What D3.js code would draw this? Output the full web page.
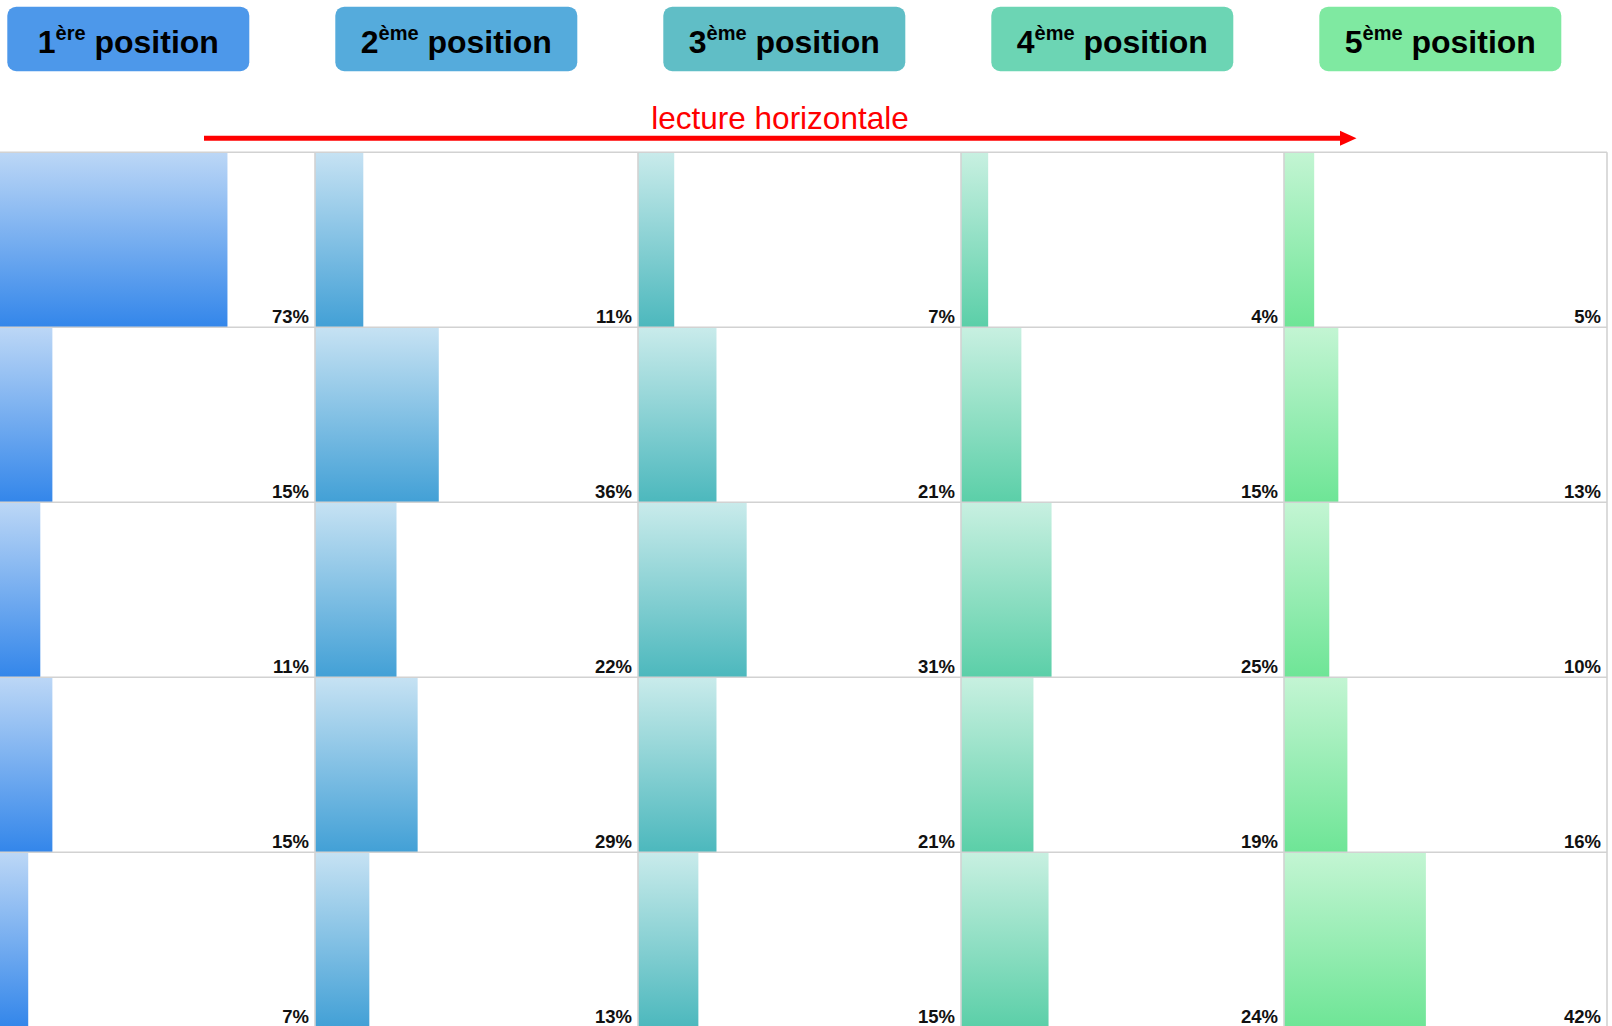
<!DOCTYPE html>
<html>
<head>
<meta charset="utf-8">
<script src="https://cdn.jsdelivr.net/npm/d3@7"></script>
<style>
  body { margin: 0; background: #fff; overflow: hidden; }
  svg { display: block; font-family: "Liberation Sans", Arial, sans-serif; }
</style>
</head>
<body>
<div id="chart"></div>
<script>
// header labels
const ranks = ["1", "2", "3", "4", "5"];
const suffixes = ["ère", "ème", "ème", "ème", "ème"];
const arrowLabel = "lecture horizontale";

// share (%) per row, one value per position column
const row1 = [73, 11, 7, 4, 5];
const row2 = [15, 36, 21, 15, 13];
const row3 = [11, 22, 31, 25, 10];
const row4 = [15, 29, 21, 19, 16];
const row5 = [7, 13, 15, 24, 42];
const rows = [row1, row2, row3, row4, row5];

// colours per column
const boxColors = ["#4d98ea", "#55abdc", "#60bec6", "#6cd5b4", "#7fe9a1"];
const gradTop = ["#bcd7f6", "#c6e2f3", "#c9ebeb", "#c8f0e1", "#c3f5d3"];
const gradBottom = ["#3386ea", "#42a0d6", "#4cb8bd", "#5bcfa8", "#6ee596"];

const WIDTH = 1612, HEIGHT = 1026;
const GRID = {left: -8, top: 152.3, colW: 323, rowH: 175};

const svg = d3.select("#chart")
    .append("svg")
    .attr("width", WIDTH)
    .attr("height", HEIGHT);

const defs = svg.append("defs");
ranks.forEach((r, i) => {
    const g = defs.append("linearGradient")
        .attr("id", "grad" + i)
        .attr("x1", 0).attr("y1", 0).attr("x2", 0).attr("y2", 1);
    g.append("stop").attr("offset", "0%").attr("stop-color", gradTop[i]);
    g.append("stop").attr("offset", "100%").attr("stop-color", gradBottom[i]);
});

// column / row bands
const col = d3.scaleBand()
    .domain(d3.range(ranks.length))
    .range([GRID.left, GRID.left + GRID.colW * ranks.length]);
const row = d3.scaleBand()
    .domain(d3.range(rows.length))
    .range([GRID.top, GRID.top + GRID.rowH * rows.length]);

// bar length inside a cell (the charts don't start at zero)
const x = d3.scaleLinear()
    .domain([-5, 102])
    .range([0, col.bandwidth()]);

// header boxes
const headBand = d3.scaleBand()
    .domain(d3.range(ranks.length))
    .range([7.3, 7.3 + 328 * ranks.length]);

const heads = svg.append("g")
    .selectAll("g")
    .data(ranks)
    .join("g")
    .attr("transform", (d, i) => `translate(${headBand(i)},6.7)`);

heads.append("rect")
    .attr("width", 242)
    .attr("height", 64.5)
    .attr("rx", 9)
    .attr("fill", (d, i) => boxColors[i]);

const headText = heads.append("text")
    .attr("x", 121)
    .attr("y", 46)
    .attr("text-anchor", "middle")
    .attr("font-weight", "bold")
    .attr("font-size", 32)
    .attr("fill", "#000");
headText.append("tspan").text(d => d);
headText.append("tspan")
    .attr("font-size", 20)
    .attr("dy", -13)
    .text((d, i) => suffixes[i]);
headText.append("tspan")
    .attr("dy", 13)
    .text(" position");

// arrow
svg.append("line")
    .attr("x1", 204).attr("x2", 1342)
    .attr("y1", 138.3).attr("y2", 138.3)
    .attr("stroke", "#ff0000")
    .attr("stroke-width", 5);
svg.append("path")
    .attr("d", "M1340,130.8 L1356.5,138.3 L1340,145.8 Z")
    .attr("fill", "#ff0000");
svg.append("text")
    .attr("x", 780)
    .attr("y", 129.3)
    .attr("text-anchor", "middle")
    .attr("font-size", 31.5)
    .attr("fill", "#ff0000")
    .text(arrowLabel);

// cells
const cells = [];
rows.forEach((vals, r) => vals.forEach((v, c) => cells.push({r, c, v})));

const grid = svg.append("g");

grid.selectAll(".bar")
    .data(cells)
    .join("rect")
    .classed("bar", true)
    .attr("x", d => col(d.c))
    .attr("y", d => row(d.r))
    .attr("width", d => x(d.v))
    .attr("height", row.bandwidth())
    .attr("fill", d => `url(#grad${d.c})`);

// grid lines
const lineColor = "#d2d2d2";
grid.selectAll(".vline")
    .data(d3.range(ranks.length + 1))
    .join("line")
    .attr("x1", i => GRID.left + i * GRID.colW)
    .attr("x2", i => GRID.left + i * GRID.colW)
    .attr("y1", GRID.top)
    .attr("y2", HEIGHT + 5)
    .attr("stroke", lineColor)
    .attr("stroke-width", 1.6);
grid.selectAll(".hline")
    .data(d3.range(rows.length + 1))
    .join("line")
    .attr("x1", GRID.left)
    .attr("x2", GRID.left + GRID.colW * ranks.length)
    .attr("y1", i => GRID.top + i * GRID.rowH)
    .attr("y2", i => GRID.top + i * GRID.rowH)
    .attr("stroke", lineColor)
    .attr("stroke-width", 1.6);

grid.selectAll(".label")
    .data(cells)
    .join("text")
    .classed("label", true)
    .attr("x", d => col(d.c) + col.bandwidth() - 6)
    .attr("y", d => row(d.r) + row.bandwidth() - 4)
    .attr("text-anchor", "end")
    .attr("font-weight", "bold")
    .attr("font-size", 18.5)
    .attr("fill", "#111")
    .text(d => d.v + "%");
</script>
</body>
</html>
